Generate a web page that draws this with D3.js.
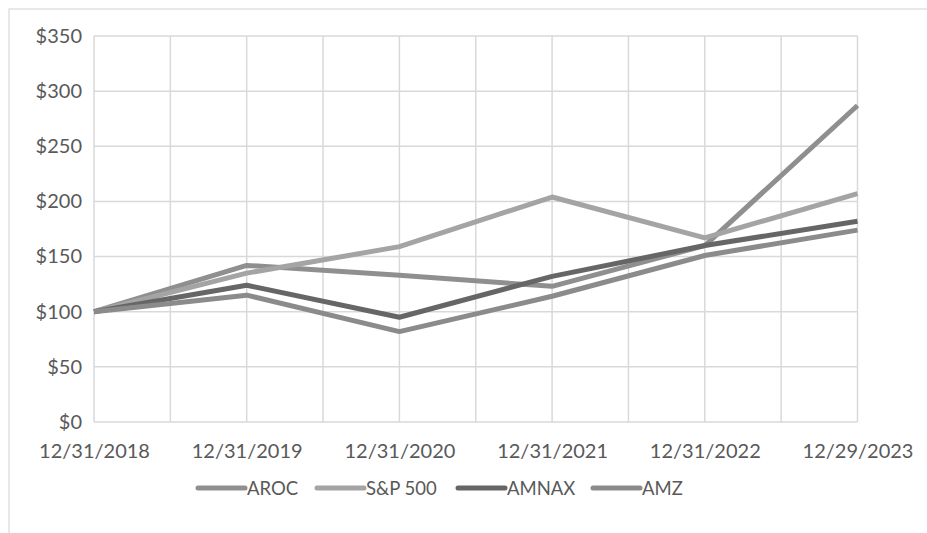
<!DOCTYPE html>
<html><head><meta charset="utf-8">
<script src="https://cdn.jsdelivr.net/npm/d3@7"></script>
<style>body{margin:0;background:#fff;} svg{display:block;}</style>
</head><body>
<svg id="c" width="927" height="533"></svg>
<script>
const categories = ["12/31/2018","12/31/2019","12/31/2020","12/31/2021","12/31/2022","12/29/2023"];
const aroc  = [100, 142, 133, 123, 160, 287];
const sp500 = [100, 135, 159, 204, 167, 207];
const amnax = [100, 124, 95, 132, 160, 182];
const amz   = [100, 115, 82, 114, 151, 174];
const yTicks = [0, 50, 100, 150, 200, 250, 300, 350];
const seriesNames = ["AROC","S&P 500","AMNAX","AMZ"];
const seriesColors = ["#8f8f8f","#a4a4a4","#666666","#8b8b8b"];

const series = [aroc, sp500, amnax, amz].map((v,i)=>({name:seriesNames[i], values:v, color:seriesColors[i]}));

const svg = d3.select("#c");
const font = "Lato, 'Open Sans', sans-serif";
const L=94, R=857.5, T=36, B=422;

svg.append("rect").attr("x",9).attr("y",9).attr("width",930).attr("height",540)
  .attr("fill","none").attr("stroke","#d9d9d9").attr("stroke-width",1.2);

const x = d3.scalePoint().domain(categories).range([L,R]);
const y = d3.scaleLinear().domain([0,350]).range([B,T]);

const g = svg.append("g");
g.selectAll("line.h").data(yTicks).join("line")
  .attr("x1",L).attr("x2",R).attr("y1",d=>y(d)).attr("y2",d=>y(d))
  .attr("stroke","#d9d9d9").attr("stroke-width",1.5);
const step = x.step();
const vx = [];
categories.forEach((c,i)=>{ vx.push(x(c)); if(i<categories.length-1) vx.push(x(c)+step/2); });
g.selectAll("line.v").data(vx).join("line")
  .attr("x1",d=>d).attr("x2",d=>d).attr("y1",T).attr("y2",B)
  .attr("stroke","#d9d9d9").attr("stroke-width",1.5);

const yAxis = d3.axisLeft(y).tickValues(yTicks).tickSize(0).tickPadding(12).tickFormat(d=>"$"+d);
const ya = svg.append("g").attr("transform",`translate(${L},0)`).call(yAxis);
ya.select(".domain").remove();
ya.selectAll("text").attr("font-family",font).attr("font-size",20).attr("fill","#595959");

const xAxis = d3.axisBottom(x).tickSize(0).tickPadding(22);
const xa = svg.append("g").attr("transform",`translate(0,${B})`).call(xAxis);
xa.select(".domain").remove();
xa.selectAll("text").attr("font-family",font).attr("font-size",20).attr("fill","#595959");

const line = d3.line().x((d,i)=>x(categories[i])).y(d=>y(d));
svg.selectAll("path.s").data(series).join("path")
  .attr("d",d=>line(d.values)).attr("fill","none")
  .attr("stroke",d=>d.color).attr("stroke-width",5).attr("stroke-linejoin","round");

const legX = [198, 317, 458, 593];
const lg = svg.append("g");
series.forEach((s,i)=>{
  lg.append("line").attr("x1",legX[i]).attr("x2",legX[i]+47).attr("y1",488).attr("y2",488)
    .attr("stroke",s.color).attr("stroke-width",5).attr("stroke-linecap","round");
  lg.append("text").attr("x",legX[i]+49).attr("y",494.5).text(s.name)
    .attr("font-family",font).attr("font-size",18.5).attr("fill","#595959");
});
</script>
</body></html>
